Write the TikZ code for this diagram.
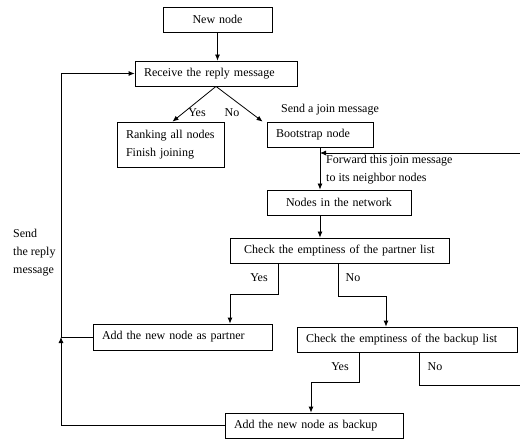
\documentclass[tikz,border=0pt]{standalone}
\usepackage{fontspec}
\setmainfont{Liberation Serif}
\usetikzlibrary{arrows.meta, positioning}

\begin{document}
\begin{tikzpicture}[
  x=1pt, y=-1pt,
  font=\fontsize{12}{18}\selectfont,
  s/.style={rectangle, draw, line width=0.8pt, minimum height=25pt,
            inner xsep=9pt, inner ysep=0pt, align=left},
  a/.style={-{Latex[length=6pt, width=5pt]}, line width=0.8pt},
  l/.style={inner sep=0pt},
]
  \useasboundingbox (0,0) rectangle (520,441);

  \node[s, text width=91pt, align=center] (new) at (217.5,19.5) {New node};
  \node[s, text width=144pt] (recv) at (216,73.5) {Receive the reply message};
  \node[s, text width=89pt, minimum height=45pt] (rank) at (170.5,144.5) {Ranking all nodes\\Finish joining};
  \node[s, text width=88pt] (boot) at (320,134.5) {Bootstrap node};
  \node[s, text width=126pt, align=center] (net) at (339,202.5) {Nodes in the network};
  \node[s, text width=201pt, align=center] (pchk) at (339.5,250.5) {Check the emptiness of the partner list};
  \node[s, text width=161pt, minimum height=26pt] (prt) at (182.5,337) {Add the new node as partner};
  \node[s, text width=202pt] (bchk) at (407,339.5) {Check the emptiness of the backup list};
  \node[s, text width=160pt] (bkp) at (314,425.5) {Add the new node as backup};

  % labels
  \node[l] (y1) at (197,113) {Yes};
  \node[l] (n1) at (232,113) {No};
  \node[l, anchor=west] (join) at (281,110) {Send a join message};
  \node[l, anchor=west, align=left] (fwd) at (326,170) {Forward this join message\\to its neighbor nodes};
  \node[l, anchor=west, align=left] (reply) at (13,253) {Send\\the reply\\message};
  \node[l] (y2) at (259,278) {Yes};
  \node[l] (n2) at (353,278) {No};
  \node[l] (y3) at (340,367) {Yes};
  \node[l] (n3) at (435,367) {No};

  \coordinate (lft) at (61,0);
  \coordinate (fin) at (520,153);
  \coordinate (nout) at (520,385);

  \draw[a] (new.south) -- (new.south |- recv.north);
  \draw[a] (recv.south) -- ([xshift=2pt]rank.north);
  \draw[a] (recv.south) -- ([xshift=-4pt]boot.north west);
  \draw[a] (fin) -- (fin -| boot.south);
  \draw[a] (boot.south) -- (boot.south |- net.north);
  \draw[a] (boot.south |- net.south) -- (boot.south |- pchk.north);

  \draw[a] ([xshift=-61.5pt]pchk.south) -- ++(0,31) -| ([xshift=47.5pt]prt.north);
  \draw[a] ([xshift=-1.5pt]pchk.south) -- ++(0,33) -| ([xshift=-21pt]bchk.north);
  \draw[a] ([xshift=-48pt]bchk.south) -- ++(0,30) -| ([xshift=-3pt]bkp.north);
  \draw[line width=0.8pt] ([xshift=12pt]bchk.south) |- (nout);

  \draw[a] (bkp.west) -| (prt.west -| lft);
  \draw[a] (prt.west) -- (prt.west -| lft) -- (recv.west -| lft) -- (recv.west);
\end{tikzpicture}
\end{document}
